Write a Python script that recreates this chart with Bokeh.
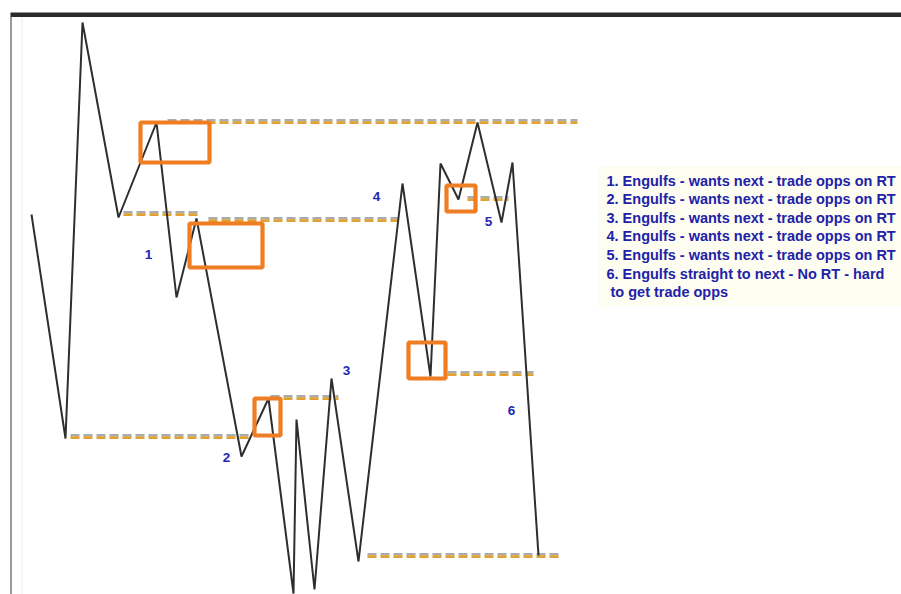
from bokeh.plotting import figure
from bokeh.models import Range1d
from bokeh.core.properties import value
from bokeh.embed import file_html
from bokeh.resources import INLINE

# ---- data (drawing units: x to the right, y downward as in the sketch) ----
zig_x = [31, 65, 82, 118, 156, 176, 196, 241, 268, 293, 296, 314, 331, 358, 402, 430, 440, 458, 477, 501, 512, 538]
zig_y = [214, 438, 22, 217, 122, 297, 218, 456, 398, 593, 419, 589, 378, 561, 183, 376, 163, 199, 122, 222, 162, 555]

level_y = [121, 213, 219, 436, 397, 198, 373, 555]
level_x0 = [167, 123, 208, 70, 270, 467, 447, 367]
level_x1 = [577, 197, 398, 252, 338, 508, 533, 562]

box_x0 = [140, 189, 254, 446, 408]
box_x1 = [209, 262, 280, 475, 445]
box_y0 = [122, 223, 398, 185, 342]
box_y1 = [162, 267, 435, 211, 378]

label_text = ["1", "2", "3", "4", "5", "6"]
label_x = [148, 226, 346, 376, 488, 511]
label_y = [254, 457, 370, 196, 221, 410]

note_lines = [
    "1. Engulfs - wants next - trade opps on RT",
    "2. Engulfs - wants next - trade opps on RT",
    "3. Engulfs - wants next - trade opps on RT",
    "4. Engulfs - wants next - trade opps on RT",
    "5. Engulfs - wants next - trade opps on RT",
    "6. Engulfs straight to next -  No RT - hard",
    "to get trade opps",
]
note_x = [606, 606, 606, 606, 606, 606, 610]
note_y = [180, 198, 217, 235, 254, 273, 291]

W, H = 901, 594
p = figure(width=W, height=H, output_backend="svg", toolbar_location=None,
           x_range=Range1d(0, W), y_range=Range1d(H, 0),
           min_border=0, outline_line_color=None)
p.axis.visible = False
p.grid.visible = False
p.background_fill_color = "white"
p.border_fill_color = "white"

# frame decorations of the screenshot
p.quad(left=[10], right=[901], top=[12], bottom=[16.5], fill_color="#2b2b2b", line_color=None)
p.segment(x0=[10.5], y0=[16], x1=[10.5], y1=[600], line_color="#555555", line_width=1.2)
p.segment(x0=[21.5], y0=[17], x1=[21.5], y1=[600], line_color="#d6d6d6", line_width=1, line_dash="1 1")

# faint background behind note text
p.quad(left=[598], right=[901], top=[166], bottom=[306], fill_color="#fdfdf2", line_color=None)

# dashed levels (grey + gold two-tone)
ly_top = [y - 1.2 for y in level_y]
ly_bot = [y + 1.2 for y in level_y]
p.segment(x0=level_x0, y0=ly_top, x1=level_x1, y1=ly_top, line_color="#a8abb0", line_width=2.5, line_dash="9 4")
p.segment(x0=level_x0, y0=ly_bot, x1=level_x1, y1=ly_bot, line_color="#e0a232", line_width=2.8, line_dash="9 4")

# price zigzag
p.line(zig_x, zig_y, line_color="#2e2e2e", line_width=2)

# orange boxes
p.quad(left=box_x0, right=box_x1, top=box_y0, bottom=box_y1, fill_color=None,
       line_color="#ef7d22", line_width=4.2)

# number labels
p.text(x=label_x, y=label_y, text=label_text, text_color="#2424b4",
       text_font=value("Liberation Sans"), text_font_style="bold", text_font_size="13.5px",
       text_align="center", text_baseline="middle")

# notes
p.text(x=note_x, y=note_y, text=note_lines, text_color="#2222a8",
       text_font=value("Liberation Sans"), text_font_style="bold", text_font_size="14.5px",
       text_align="left", text_baseline="middle")

open("out.html", "w").write(file_html(p, INLINE))
